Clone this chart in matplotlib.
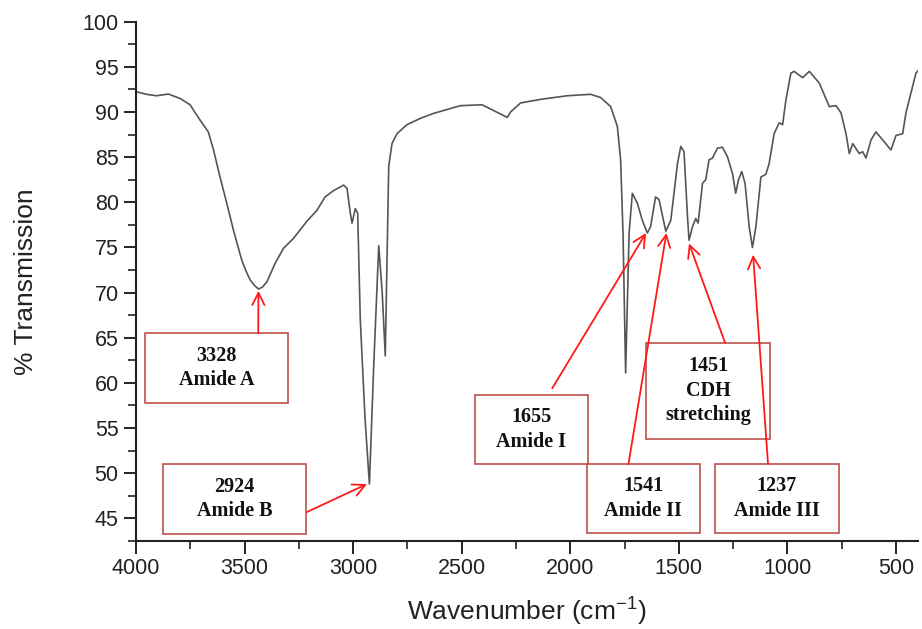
import numpy as np
import matplotlib.pyplot as plt
from matplotlib.patches import Rectangle
from matplotlib.ticker import MultipleLocator

plt.rcParams['mathtext.fontset'] = 'custom'
plt.rcParams['mathtext.rm'] = 'Liberation Sans'
plt.rcParams['mathtext.it'] = 'Liberation Sans'

# FTIR spectrum (wavenumber, % transmission)
wavenumber = [4000, 3950, 3905, 3851, 3797, 3751, 3705, 3667, 3643, 3613,
              3582, 3551, 3513, 3490, 3474, 3455, 3436, 3418, 3397, 3360,
              3321, 3275, 3213, 3167, 3129, 3090, 3044, 3028, 3013, 3005,
              2990, 2979, 2967, 2945, 2925, 2905, 2882, 2866, 2852, 2836,
              2821, 2798, 2752, 2690, 2629, 2506, 2406, 2290, 2275, 2229,
              2137, 2014, 1906, 1860, 1814, 1783, 1768, 1757, 1745, 1729,
              1714, 1691, 1668, 1645, 1630, 1607, 1591, 1560, 1537, 1506,
              1491, 1476, 1460, 1453, 1437, 1422, 1411, 1391, 1376, 1361,
              1345, 1322, 1299, 1276, 1253, 1238, 1225, 1210, 1195, 1176,
              1161, 1145, 1122, 1099, 1084, 1061, 1038, 1022, 1007, 984,
              969, 930, 899, 853, 807, 776, 753, 730, 715, 699,
              669, 653, 638, 615, 592, 561, 523, 500, 469, 454,
              431, 408, 393]
transmission = [92.25, 91.95, 91.8, 91.99, 91.5, 90.8, 89.1, 87.8, 85.8, 82.8,
                79.9, 76.9, 73.6, 72.2, 71.4, 70.8, 70.4, 70.6, 71.2, 73.2,
                74.9, 76.0, 77.9, 79.1, 80.6, 81.3, 81.9, 81.55, 78.8, 77.7,
                79.3, 78.8, 67.0, 56.0, 48.8, 62.0, 75.2, 70.0, 63.0, 84.0,
                86.5, 87.6, 88.6, 89.3, 89.85, 90.7, 90.8, 89.4, 90.0, 91.0,
                91.4, 91.8, 91.96, 91.6, 90.6, 88.4, 84.7, 76.6, 61.1, 76.6,
                81.0, 79.9, 78.0, 76.6, 77.3, 80.6, 80.3, 76.8, 78.0, 84.3,
                86.2, 85.6, 78.4, 75.8, 77.3, 78.2, 77.7, 82.1, 82.5, 84.7,
                84.9, 86.0, 86.1, 85.05, 83.2, 81.0, 82.5, 83.4, 82.1, 77.3,
                75.0, 77.3, 82.8, 83.1, 84.3, 87.6, 88.8, 88.6, 91.3, 94.3,
                94.5, 93.8, 94.5, 93.2, 90.6, 90.7, 89.9, 87.6, 85.4, 86.5,
                85.4, 85.6, 84.9, 86.9, 87.8, 86.9, 85.8, 87.4, 87.6, 89.9,
                92.1, 94.3, 94.7]

# annotation labels, box extents (x0, x1, y0, y1), arrow start and tip
labels = ["3328\nAmide A", "2924\nAmide B", "1655\nAmide I",
          "1541\nAmide II", "1451\nCDH\nstretching", "1237\nAmide III"]
boxes = [(3957, 3302, 57.8, 65.5), (3874, 3219, 43.3, 51.0),
         (2440, 1917, 51.0, 58.7), (1925, 1402, 43.35, 51.0),
         (1649, 1079, 53.8, 64.45), (1334, 764, 43.35, 51.0)]
arrow_from = [(3437, 65.5), (3213, 45.7), (2083, 59.4),
              (1732, 51.0), (1287, 64.45), (1089, 51.0)]
arrow_to = [(3436, 70.2), (2936, 48.8), (1651, 76.6),
            (1557, 76.6), (1453, 75.45), (1158, 74.2)]

fig = plt.figure(figsize=(9.22, 6.29), dpi=100)
ax = fig.add_axes([0.1475, 0.14, 0.8485, 0.8255])

ax.plot(wavenumber, transmission, color='#555555', lw=1.2)

for lab, (x0, x1, y0, y1) in zip(labels, boxes):
    ax.add_patch(Rectangle((x1, y0), x0 - x1, y1 - y0, fill=False,
                           edgecolor='#c0504d', lw=1.2, zorder=3))
    ax.text((x0 + x1) / 2, (y0 + y1) / 2, lab, ha='center', va='center',
            fontsize=14.5, fontweight='bold', family='Liberation Serif',
            linespacing=1.3, color='#111111', zorder=4)

for (xs, ys), (xt, yt) in zip(arrow_from, arrow_to):
    ax.annotate('', xy=(xt, yt), xytext=(xs, ys),
                arrowprops=dict(arrowstyle='->', color='#ff1a1a', lw=1.3,
                                mutation_scale=22, shrinkA=0, shrinkB=0),
                zorder=5)

ax.set_xlim(4000, 397)
ax.set_ylim(42.5, 100)
ax.xaxis.set_major_locator(MultipleLocator(500))
ax.xaxis.set_minor_locator(MultipleLocator(250))
ax.yaxis.set_major_locator(MultipleLocator(5))
ax.yaxis.set_minor_locator(MultipleLocator(2.5))

for s in ['top', 'right']:
    ax.spines[s].set_visible(False)
for s in ['left', 'bottom']:
    ax.spines[s].set_linewidth(1.5)
    ax.spines[s].set_color('#222222')

ax.tick_params(which='major', length=9, width=1.4, labelsize=15.5,
               colors='#222222', direction='out')
ax.tick_params(which='minor', length=5.5, width=1.2, colors='#222222',
               direction='out')
for t in ax.get_xticklabels() + ax.get_yticklabels():
    t.set_family('Liberation Sans')

ax.set_xlabel('Wavenumber (cm$^{\\mathregular{-1}}$)', fontsize=19,
              family='Liberation Sans', color='#222222', labelpad=12)
ax.set_ylabel('% Transmission', fontsize=19, family='Liberation Sans',
              color='#222222', labelpad=32)

fig.savefig('out.png', dpi=100)
